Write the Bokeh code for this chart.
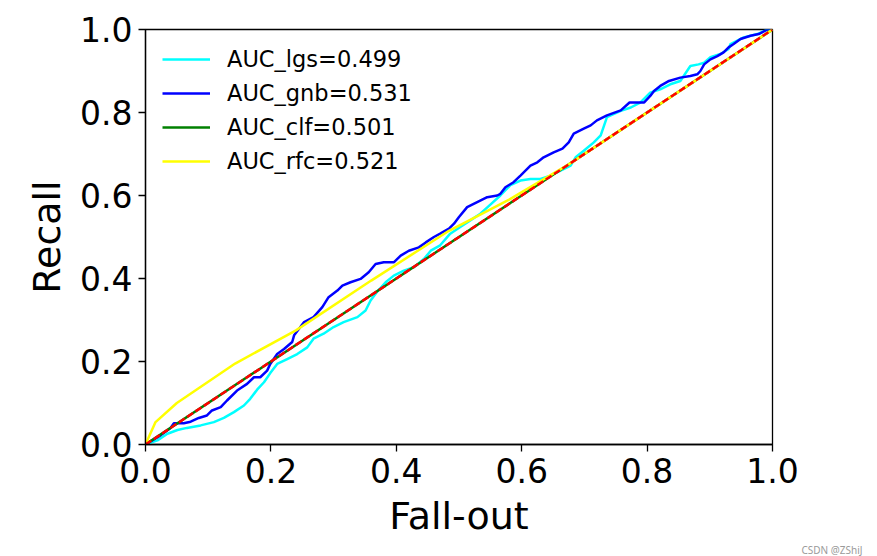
from bokeh.plotting import figure
from bokeh.models import Range1d, FixedTicker, PrintfTickFormatter, Title
from bokeh.embed import file_html
from bokeh.resources import INLINE

# ---- data ----
lgs_fpr = [0, .019, .035, .051, .066, .088, .109, .125, .141, .157, .167, .178, .189, .199, .210, .226,
           .242, .258, .268, .284, .300, .316, .338, .351, .359, .370, .383, .396, .412, .428, .444, .455,
           .470, .486, .502, .518, .534, .550, .566, .582, .598, .614, .630, .646, .662, .678, .686, .699,
           .715, .726, .736, .742, .758, .774, .789, .805, .821, .837, .853, .869, .882, .891, .901, .917,
           .930, .933, .954, .976, .992, 1.0]
lgs_tpr = [0, .010, .026, .035, .040, .046, .054, .064, .078, .094, .110, .132, .150, .172, .194, .206,
           .218, .234, .255, .267, .283, .295, .307, .323, .347, .369, .391, .407, .419, .427, .447, .467,
           .480, .508, .524, .540, .556, .578, .600, .625, .636, .640, .640, .648, .660, .672, .692, .708,
           .728, .745, .789, .793, .804, .812, .824, .848, .856, .868, .876, .912, .916, .920, .933, .941,
           .953, .965, .981, .989, 1.0, 1.0]

gnb_fpr = [0, .024, .040, .045, .061, .072, .085, .098, .106, .120, .130, .146, .162, .173, .183, .194,
           .199, .210, .221, .234, .237, .247, .253, .268, .282, .292, .306, .314, .327, .343, .356, .367,
           .380, .396, .407, .420, .436, .447, .460, .470, .484, .492, .500, .513, .529, .545, .561, .566,
           .574, .587, .598, .614, .625, .635, .651, .665, .675, .683, .699, .710, .720, .736, .758, .772,
           .795, .805, .811, .821, .835, .853, .869, .880, .885, .891, .901, .912, .922, .930, .938, .949,
           .965, .978, .992, 1.0]
gnb_tpr = [0, .022, .040, .051, .051, .055, .064, .070, .082, .090, .106, .130, .146, .162, .162, .178,
           .194, .218, .230, .247, .263, .283, .295, .307, .331, .355, .371, .383, .391, .399, .415, .435,
           .439, .439, .455, .467, .475, .487, .500, .508, .520, .532, .548, .572, .584, .596, .600, .604,
           .620, .632, .648, .672, .680, .692, .704, .713, .728, .749, .761, .769, .781, .793, .805, .824,
           .824, .840, .852, .864, .876, .884, .888, .892, .900, .916, .928, .936, .945, .957, .965, .977,
           .985, .989, 1.0, 1.0]

clf_fpr = [0, 1.0]
clf_tpr = [0, 1.0]

rfc_fpr = [0, .016, .050, .143, .240, .360, .484, .580, .675, 1.0]
rfc_tpr = [0, .054, .100, .195, .275, .395, .515, .590, .675, 1.0]

diag = [0, 1]

labels = ["AUC_lgs=0.499", "AUC_gnb=0.531", "AUC_clf=0.501", "AUC_rfc=0.521"]
ticks = [0.0, 0.2, 0.4, 0.6, 0.8, 1.0]

FONT = "DejaVu Sans"

p = figure(width=870, height=556, x_range=Range1d(0, 1), y_range=Range1d(0, 1),
           output_backend="svg", toolbar_location=None,
           min_border_left=145, min_border_right=98, min_border_top=29, min_border_bottom=112)
p.grid.visible = False
p.outline_line_color = "black"
p.outline_line_width = 1.3

for ax in (p.xaxis[0], p.yaxis[0]):
    ax.ticker = FixedTicker(ticks=ticks)
    ax.formatter = PrintfTickFormatter(format="%.1f")
    ax.minor_tick_line_color = None
    ax.major_tick_in = 0
    ax.major_tick_out = 7
    ax.major_tick_line_width = 1.3
    ax.axis_line_width = 1.3
    ax.axis_line_color = "black"
    ax.major_tick_line_color = "black"
    ax.major_label_text_font = FONT
    ax.major_label_text_font_size = "33px"
    ax.major_label_text_color = "black"
    ax.axis_label_text_font = FONT
    ax.axis_label_text_font_size = "38px"
    ax.axis_label_text_font_style = "normal"
    ax.axis_label_text_color = "black"
    ax.major_label_standoff = 6

p.xaxis.axis_label = "Fall-out"
p.yaxis.axis_label = "Recall"
p.xaxis.axis_label_standoff = 8
p.yaxis.axis_label_standoff = 8

p.line(lgs_fpr, lgs_tpr, color="#00FFFF", line_width=2.5, legend_label=labels[0])
p.line(gnb_fpr, gnb_tpr, color="#0000FF", line_width=2.5, legend_label=labels[1])
p.line(clf_fpr, clf_tpr, color="#008000", line_width=2.5, legend_label=labels[2])
p.line(rfc_fpr, rfc_tpr, color="#FFFF00", line_width=2.5, legend_label=labels[3])
p.line(diag, diag, color="#FF0000", line_width=2.5, line_dash="7 3")

lg = p.legend[0]
lg.location = "top_left"
lg.border_line_alpha = 0
lg.background_fill_alpha = 0
lg.label_text_font = FONT
lg.label_text_font_size = "22.5px"
lg.label_text_color = "black"
lg.glyph_width = 48
lg.glyph_height = 20
lg.label_height = 20
lg.label_standoff = 17
lg.spacing = 8
lg.padding = 8
lg.margin = 9

wm = Title(text="CSDN @ZShiJ", align="right", text_font="Noto Sans",
           text_font_size="10px", text_color="#9a9a9a", text_font_style="normal",
           standoff=0, offset=-90)
p.add_layout(wm, "below")

open("out.html", "w").write(file_html(p, INLINE))
